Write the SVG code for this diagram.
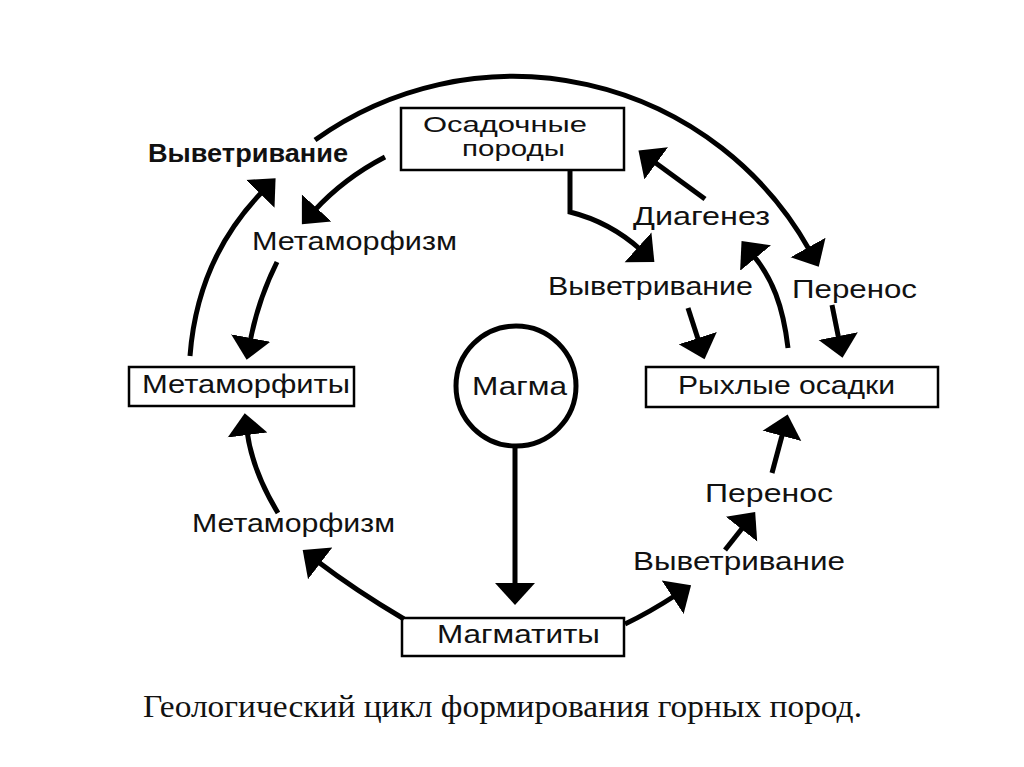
<svg xmlns="http://www.w3.org/2000/svg" width="1024" height="767" viewBox="0 0 1024 767">
<style>
.box{fill:#fff;stroke:#000;stroke-width:2.5}
.lbl{font-family:"Liberation Sans",Arial,sans-serif;font-size:25px;fill:#111}
.sm{font-size:22px}
.b{font-weight:bold}
.cap{font-family:"Liberation Serif","Times New Roman",serif;font-size:32px;fill:#111}
.con path{fill:none;stroke:#000;stroke-width:5;marker-end:url(#ah)}
</style>
<defs>
<marker id="ah" markerUnits="userSpaceOnUse" markerWidth="30" markerHeight="46" viewBox="0 -23 30 46" refX="4" refY="0" orient="auto">
<path d="M0,-20 L22,0 L0,20 Z" fill="#000"/>
</marker>
</defs>
<rect width="1024" height="767" fill="#fff"/>

<g id="osadochnye">
<rect class="box" x="401" y="108" width="223" height="62"/>
<text class="lbl sm" x="423" y="132" textLength="164" lengthAdjust="spacingAndGlyphs">Осадочные</text>
<text class="lbl sm" x="462" y="156" textLength="103" lengthAdjust="spacingAndGlyphs">породы</text>
</g>
<g id="metamorfity">
<rect class="box" x="129" y="367" width="225" height="39"/>
<text class="lbl" x="142" y="393" textLength="208" lengthAdjust="spacingAndGlyphs">Метаморфиты</text>
</g>
<g id="ryhlye">
<rect class="box" x="646" y="367" width="292" height="40"/>
<text class="lbl" x="678" y="394" textLength="217" lengthAdjust="spacingAndGlyphs">Рыхлые осадки</text>
</g>
<g id="magmatity">
<rect class="box" x="402" y="618" width="222" height="38"/>
<text class="lbl" x="437" y="643" textLength="163" lengthAdjust="spacingAndGlyphs">Магматиты</text>
</g>
<g id="magma">
<circle cx="516" cy="386" r="60" fill="#fff" stroke="#000" stroke-width="5"/>
<text class="lbl" x="472" y="395" textLength="95" lengthAdjust="spacingAndGlyphs">Магма</text>
</g>

<g id="labels">
<text class="lbl b" x="148" y="162" textLength="200" lengthAdjust="spacingAndGlyphs">Выветривание</text>
<text class="lbl" x="252" y="250" textLength="205" lengthAdjust="spacingAndGlyphs">Метаморфизм</text>
<text class="lbl" x="192" y="532" textLength="203" lengthAdjust="spacingAndGlyphs">Метаморфизм</text>
<text class="lbl" x="633" y="225" textLength="137" lengthAdjust="spacingAndGlyphs">Диагенез</text>
<text class="lbl" x="548" y="295" textLength="205" lengthAdjust="spacingAndGlyphs">Выветривание</text>
<text class="lbl" x="792" y="298" textLength="125" lengthAdjust="spacingAndGlyphs">Перенос</text>
<text class="lbl" x="705" y="502" textLength="128" lengthAdjust="spacingAndGlyphs">Перенос</text>
<text class="lbl" x="633" y="570" textLength="212" lengthAdjust="spacingAndGlyphs">Выветривание</text>
</g>

<g id="connectors" class="con">
<path d="M315,140 A340,340 0 0 1 810,251"/>
<path d="M190,356 C195,290 220,235 263,191"/>
<path d="M385,157 C360,170 335,188 314,211"/>
<path d="M277,262 Q258,300 250,342"/>
<path d="M278,513 Q252,470 247,431"/>
<path d="M404,619 Q355,590 317,561"/>
<path d="M625,624 Q650,612 676,595"/>
<path d="M725,550 L744,526"/>
<path d="M772,473 L783,432"/>
<path d="M570,170 L570,212 Q610,222 641,250"/>
<path d="M705,199 L653,161"/>
<path d="M788,348 C783,305 772,278 753,255"/>
<path d="M688,308 L699,342"/>
<path d="M832,305 L839,340"/>
<path d="M515,446 L515,587"/>
</g>

<text id="caption" class="cap" x="143" y="717" textLength="719" lengthAdjust="spacingAndGlyphs">Геологический цикл формирования горных пород.</text>
</svg>
